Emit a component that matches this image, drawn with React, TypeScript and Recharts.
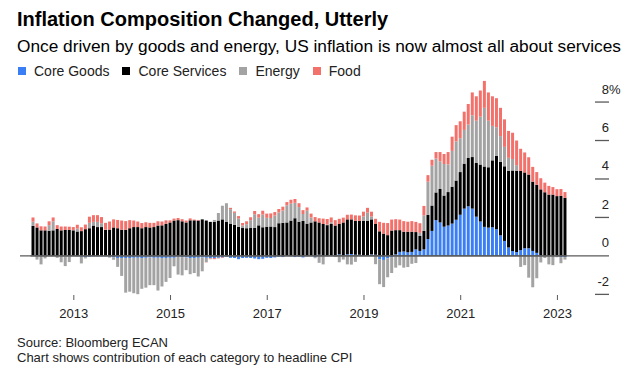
import { BarChart, Bar, XAxis, YAxis, ReferenceLine } from "recharts";

// contribution to headline CPI (pct pts), monthly Feb 2013 - Feb 2024
const START_YEAR = 2013;
const START_MONTH = 1; // Feb (0-based)

// prettier-ignore
const coreGoods = [
  0.04, 0.02, 0.0, 0.02, 0.04, 0.0, 0.0, 0.0, -0.02, -0.02, 0.0,
  -0.02, -0.04, -0.06, -0.04, -0.02, -0.02, -0.02, -0.02, -0.04, -0.08, -0.11, -0.11,
  -0.11, -0.11, -0.1, -0.1, -0.11, -0.1, -0.08, -0.1, -0.1, -0.11, -0.11, -0.1,
  -0.1, -0.04, -0.06, -0.08, -0.11, -0.11, -0.1, -0.08, -0.1, -0.11, -0.11, -0.1,
  -0.08, -0.04, -0.1, -0.11, -0.17, -0.11, -0.1, -0.11, -0.13, -0.17, -0.15, -0.1,
  -0.11, -0.08, -0.04, -0.06, 0.0, -0.02, -0.06, -0.04, -0.08, -0.02, 0.02, -0.06,
  0.06, 0.0, -0.02, 0.02, 0.04, 0.08, 0.02, 0.08, 0.1, 0.06, 0.06, 0.02,
  0.02, 0.08, 0.06, -0.17, -0.21, -0.13, -0.06, 0.08, 0.21, 0.23, 0.19, 0.21,
  0.34, 0.26, 0.34, 0.88, 1.3, 1.86, 1.74, 1.52, 1.58, 1.68, 1.88, 2.14,
  2.46, 2.58, 2.46, 2.04, 1.79, 1.51, 1.47, 1.49, 1.39, 1.07, 0.78, 0.44,
  0.26, 0.2, 0.3, 0.4, 0.4, 0.26, 0.16, 0.04, 0.0, 0.0, 0.0, 0.04,
  -0.06, -0.06,
];

// prettier-ignore
const coreServices = [
  1.52, 1.46, 1.33, 1.31, 1.27, 1.33, 1.4, 1.33, 1.35, 1.35, 1.33,
  1.27, 1.29, 1.39, 1.44, 1.58, 1.5, 1.5, 1.35, 1.37, 1.48, 1.44, 1.36,
  1.36, 1.44, 1.5, 1.5, 1.44, 1.5, 1.48, 1.5, 1.58, 1.59, 1.67, 1.74,
  1.84, 1.86, 1.8, 1.74, 1.85, 1.85, 1.84, 1.9, 1.84, 1.77, 1.77, 1.84,
  1.9, 1.78, 1.68, 1.61, 1.51, 1.45, 1.44, 1.45, 1.47, 1.59, 1.49, 1.52,
  1.53, 1.5, 1.7, 1.72, 1.74, 1.84, 1.96, 1.78, 1.82, 1.68, 1.72, 1.8,
  1.68, 1.66, 1.6, 1.64, 1.54, 1.58, 1.72, 1.82, 1.8, 1.76, 1.76, 1.8,
  1.8, 1.82, 1.6, 1.28, 1.16, 1.08, 1.32, 1.26, 1.13, 1.03, 1.07, 1.05,
  0.9, 0.78, 0.96, 1.26, 1.32, 1.44, 1.74, 1.62, 1.74, 1.92, 2.04, 2.22,
  2.34, 2.51, 2.68, 2.79, 2.96, 3.14, 3.14, 3.48, 3.82, 3.82, 3.88, 3.99,
  4.18, 4.23, 4.12, 3.94, 3.83, 3.6, 3.54, 3.42, 3.31, 3.19, 3.19, 3.07,
  3.13, 3.02,
];

// prettier-ignore
const energy = [
  0.22, -0.19, -0.44, -0.13, 0.29, 0.47, -0.1, -0.33, -0.51, -0.3, 0.02,
  0.15, -0.35, -0.07, 0.28, 0.19, 0.27, 0.2, 0.01, -0.05, -0.12, -0.46, -0.93,
  -1.8, -1.75, -1.84, -1.89, -1.6, -1.55, -1.44, -1.42, -1.7, -1.48, -1.24, -1.05,
  -0.44, -0.93, -0.95, -0.66, -0.84, -0.78, -0.97, -0.72, -0.23, -0.03, 0.1, 0.39,
  0.71, 0.96, 0.75, 0.63, 0.43, 0.13, 0.21, 0.41, 0.69, 0.4, 0.66, 0.46,
  0.44, 0.6, 0.56, 0.64, 0.89, 0.88, 0.8, 0.76, 0.36, 0.67, 0.26, -0.06,
  -0.36, -0.44, 0.03, 0.09, -0.06, -0.33, -0.19, -0.44, -0.45, -0.31, 0.0, 0.23,
  0.43, 0.15, -0.43, -1.3, -1.41, -0.98, -0.83, -0.61, -0.49, -0.61, -0.58, -0.41,
  -0.37, 0.16, 0.81, 1.72, 2.07, 1.76, 1.44, 1.64, 1.44, 1.86, 2.03, 1.76,
  1.75, 1.74, 2.17, 2.2, 2.49, 3.05, 2.42, 1.79, 1.48, 1.34, 1.01, 0.67,
  0.6, 0.29, -0.57, -0.48, -1.13, -1.63, -1.16, -0.34, -0.11, -0.44, -0.48, -0.07,
  -0.32, -0.13,
];

// prettier-ignore
const food = [
  0.22, 0.21, 0.21, 0.2, 0.2, 0.2, 0.2, 0.2, 0.18, 0.17, 0.15,
  0.2, 0.2, 0.24, 0.32, 0.35, 0.35, 0.32, 0.36, 0.42, 0.42, 0.43, 0.48,
  0.45, 0.42, 0.34, 0.29, 0.27, 0.25, 0.24, 0.22, 0.22, 0.2, 0.18, 0.11,
  0.1, 0.11, 0.11, 0.1, 0.1, 0.04, 0.03, 0.0, -0.01, -0.03, -0.06, -0.03,
  -0.03, 0.0, 0.07, 0.07, 0.13, 0.13, 0.15, 0.15, 0.17, 0.18, 0.2, 0.22,
  0.24, 0.18, 0.18, 0.2, 0.17, 0.2, 0.2, 0.2, 0.2, 0.17, 0.2, 0.22,
  0.22, 0.28, 0.29, 0.25, 0.28, 0.27, 0.25, 0.24, 0.25, 0.29, 0.28, 0.25,
  0.25, 0.25, 0.27, 0.49, 0.56, 0.63, 0.57, 0.57, 0.55, 0.55, 0.52, 0.55,
  0.53, 0.5, 0.49, 0.34, 0.31, 0.34, 0.48, 0.52, 0.64, 0.74, 0.85, 0.88,
  0.95, 1.07, 1.19, 1.27, 1.36, 1.4, 1.47, 1.54, 1.51, 1.47, 1.43, 1.4,
  1.36, 1.28, 1.15, 1.04, 0.9, 0.77, 0.66, 0.58, 0.5, 0.45, 0.39, 0.36,
  0.35, 0.3,
];

const yTicks = [-2, 0, 2, 4, 6, 8];
const yearLabels = ["2013", "2015", "2017", "2019", "2021", "2023"];

const series = [
  { key: "goods", name: "Core Goods", color: "#3a7ef6" },
  { key: "services", name: "Core Services", color: "#000000" },
  { key: "energy", name: "Energy", color: "#a3a3a3" },
  { key: "food", name: "Food", color: "#f3716b" },
];

const months = coreGoods.map((_, i) => {
  const m = START_MONTH + i;
  const y = START_YEAR + Math.floor(m / 12);
  return `${y}-${String((m % 12) + 1).padStart(2, "0")}`;
});

const data = months.map((month, i) => ({
  month,
  goods: coreGoods[i],
  services: coreServices[i],
  energy: energy[i],
  food: food[i],
}));

const FONT = '"Liberation Sans", Arial, Helvetica, sans-serif';
const AXIS_GREY = "#5a5a5a";

function YearTick(props: any) {
  const { x, payload } = props;
  const [year, mon] = String(payload.value).split("-");
  if (mon !== "12" || !yearLabels.includes(year)) return <g />;
  const cx = x + 1;
  return (
    <g>
      <line x1={cx} x2={cx} y1={295} y2={300} stroke={AXIS_GREY} strokeWidth={1} />
      <text x={cx} y={318} textAnchor="middle" fontSize={13} fill="#222" fontFamily={FONT}>
        {year}
      </text>
    </g>
  );
}

function ValueTick(props: any) {
  const { y, payload } = props;
  const v = payload.value;
  return (
    <g>
      <line x1={v === 0 ? 20 : 595} x2={609} y1={y} y2={y} stroke={AXIS_GREY} strokeWidth={1.3} />
      <text x={609} y={y - 8.5} textAnchor="end" fontSize={13} fill="#222" fontFamily={FONT}>
        {v}
      </text>
      {v === 8 && (
        <text x={609} y={y - 8.5} textAnchor="start" fontSize={13} fill="#222" fontFamily={FONT}>
          %
        </text>
      )}
    </g>
  );
}

export default function App() {
  return (
    <div
      style={{
        position: "absolute",
        left: 0,
        top: 0,
        width: 640,
        height: 371,
        background: "#fff",
        fontFamily: FONT,
        color: "#000",
        overflow: "hidden",
      }}
    >
      <div style={{ position: "absolute", left: 17, top: 9, fontSize: 20, lineHeight: "20px", fontWeight: 700, whiteSpace: "nowrap" }}>
        Inflation Composition Changed, Utterly
      </div>
      <div style={{ position: "absolute", left: 17, top: 38, fontSize: 17.3, lineHeight: "17.3px", whiteSpace: "nowrap" }}>
        Once driven by goods and energy, US inflation is now almost all about services
      </div>
      <div style={{ position: "absolute", left: 18, top: 64, display: "flex", alignItems: "center", fontSize: 14, lineHeight: "14px", color: "#222" }}>
        {series.map((s) => (
          <div key={s.key} style={{ display: "flex", alignItems: "center", marginRight: 13 }}>
            <span style={{ display: "inline-block", width: 8, height: 8, background: s.color, marginRight: 8 }} />
            <span>{s.name}</span>
          </div>
        ))}
      </div>

      <div style={{ position: "absolute", left: 0, top: 0 }}>
        <BarChart
          width={640}
          height={371}
          data={data}
          stackOffset="sign"
          barSize={3}
          margin={{ top: 73.2, right: 0, bottom: 37, left: 30.5 }}
        >
          <XAxis
            dataKey="month"
            interval={0}
            height={30}
            axisLine={false}
            tickLine={false}
            tick={<YearTick />}
          />
          <YAxis
            orientation="right"
            width={73.5}
            domain={[-2.5, 9.5]}
            ticks={yTicks}
            axisLine={false}
            tickLine={false}
            tick={<ValueTick />}
          />
          {series.map((s) => (
            <Bar key={s.key} dataKey={s.key} stackId="a" fill={s.color} isAnimationActive={false} />
          ))}
          <ReferenceLine y={0} stroke={AXIS_GREY} strokeWidth={1.3} />
        </BarChart>
      </div>

      <div style={{ position: "absolute", left: 17, top: 335, fontSize: 13, lineHeight: "15px", color: "#222" }}>
        <div>Source: Bloomberg ECAN</div>
        <div>Chart shows contribution of each category to headline CPI</div>
      </div>
    </div>
  );
}
